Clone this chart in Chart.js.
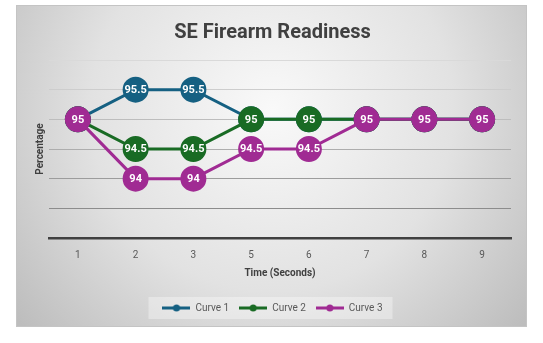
<!DOCTYPE html>
<html>
<head>
<meta charset="utf-8">
<script src="https://cdn.jsdelivr.net/npm/chart.js@4.4.1/dist/chart.umd.min.js"></script>
<style>
  html, body { margin: 0; padding: 0; background: #fff; }
  #wrap { width: 543px; height: 343px; }
</style>
</head>
<body>
<div id="wrap"><canvas id="chart" width="543" height="343"></canvas></div>
<script>
// data
var times = ['1', '2', '3', '5', '6', '7', '8', '9'];
var curve1 = [95, 95.5, 95.5, 95, 95, 95, 95, 95];
var curve2 = [95, 94.5, 94.5, 95, 95, 95, 95, 95];
var curve3 = [95, 94, 94, 94.5, 94.5, 95, 95, 95];
var seriesNames = ['Curve 1', 'Curve 2', 'Curve 3'];
var colors = ['#156082', '#196B24', '#A02B93'];

var fontFam = 'Roboto, "Liberation Sans", sans-serif';

// little line-with-dot marker for the legend
function legendMarker(color) {
    var c = document.createElement('canvas');
    c.width = 28; c.height = 8;
    var g = c.getContext('2d');
    g.strokeStyle = color;
    g.lineWidth = 3;
    g.beginPath(); g.moveTo(0, 4); g.lineTo(28, 4); g.stroke();
    g.fillStyle = color;
    g.beginPath(); g.arc(14, 4, 3.5, 0, Math.PI * 2); g.fill();
    return c;
}

// gray gradient panel behind everything + legend box
var panelBg = {
    id: 'panelBg',
    beforeDraw: function(chart) {
        var ctx = chart.ctx;
        ctx.save();
        var x0 = 16, y0 = 5, x1 = 527, y1 = 327;
        var grad = ctx.createRadialGradient(272, 110, 0, 272, 110, 330);
        grad.addColorStop(0, '#f9f9f9');
        grad.addColorStop(0.55, '#e2e2e2');
        grad.addColorStop(1, '#bdbdbd');
        ctx.fillStyle = grad;
        ctx.fillRect(x0, y0, x1 - x0, y1 - y0);
        ctx.strokeStyle = '#c4c4c4';
        ctx.lineWidth = 1;
        ctx.strokeRect(x0 + 0.5, y0 + 0.5, x1 - x0 - 1, y1 - y0 - 1);

        var boxes = chart.legend && chart.legend.legendHitBoxes;
        if (boxes && boxes.length) {
            var first = boxes[0], last = boxes[boxes.length - 1];
            ctx.fillStyle = 'rgba(255,255,255,0.35)';
            ctx.fillRect(first.left - 14, first.top - 6, last.left + last.width - first.left + 24, first.height + 12);
        }
        ctx.restore();
    }
};

// white value labels inside the markers
var pointLabels = {
    id: 'pointLabels',
    afterDatasetDraw: function(chart, args) {
        var ctx = chart.ctx;
        var ds = chart.data.datasets[args.index];
        ctx.save();
        ctx.font = 'bold 11px ' + fontFam;
        ctx.fillStyle = '#ffffff';
        ctx.textAlign = 'center';
        ctx.textBaseline = 'middle';
        args.meta.data.forEach(function(pt, i) {
            ctx.fillText(String(ds.data[i]), pt.x, pt.y + 0.5);
        });
        ctx.restore();
    }
};

var gridColors = ['#3f3f3f', '#8c8c8c', '#9c9c9c', '#adadad', '#bdbdbd', '#cdcdcd', '#d9d9d9'];

var datasets = [curve1, curve2, curve3].map(function(vals, i) {
    return {
        label: seriesNames[i],
        data: vals,
        borderColor: colors[i],
        backgroundColor: colors[i],
        pointBackgroundColor: colors[i],
        pointBorderColor: colors[i],
        borderWidth: 3,
        pointRadius: 11.5,
        pointHoverRadius: 11.5,
        tension: 0,
        order: 3 - i,
        pointStyle: 'circle'
    };
});

var ctx = document.getElementById('chart').getContext('2d');
var chart = new Chart(ctx, {
    type: 'line',
    data: { labels: times, datasets: datasets },
    options: {
        responsive: false,
        animation: false,
        layout: { padding: { left: 34, right: 32, top: 5, bottom: 20 } },
        plugins: {
            title: {
                display: true,
                text: 'SE Firearm Readiness',
                color: '#404040',
                font: { family: fontFam, size: 20, weight: 'bold' },
                padding: { top: 16, bottom: 15 }
            },
            legend: {
                position: 'bottom',
                labels: {
                    usePointStyle: true,
                    pointStyleWidth: 28,
                    color: '#595959',
                    font: { family: fontFam, size: 10 },
                    padding: 10,
                    sort: function(a, b) { return a.datasetIndex - b.datasetIndex; },
                    generateLabels: function(ch) {
                        return ch.data.datasets.map(function(d, i) {
                            return {
                                text: d.label,
                                pointStyle: legendMarker(colors[i]),
                                fillStyle: colors[i],
                                strokeStyle: colors[i],
                                lineWidth: 0,
                                fontColor: '#595959',
                                datasetIndex: i
                            };
                        });
                    }
                }
            },
            tooltip: { enabled: false }
        },
        scales: {
            x: {
                offset: true,
                grid: { display: false, offset: true },
                border: { display: true, color: '#404040', width: 2.5 },
                ticks: { color: '#595959', font: { family: fontFam, size: 10 }, padding: 3 },
                title: {
                    display: true,
                    text: 'Time (Seconds)',
                    color: '#404040',
                    font: { family: fontFam, size: 10, weight: 'bold' },
                    padding: { top: 3, bottom: 14 }
                }
            },
            y: {
                min: 93,
                max: 96,
                ticks: { stepSize: 0.5, display: false },
                border: { display: false },
                grid: {
                    drawTicks: false,
                    color: function(c) { return gridColors[c.index] || '#d9d9d9'; },
                    lineWidth: 1
                },
                title: {
                    display: true,
                    text: 'Percentage',
                    color: '#404040',
                    font: { family: fontFam, size: 10, weight: 'bold' },
                    padding: { top: 0, bottom: 3 }
                }
            }
        }
    },
    plugins: [panelBg, pointLabels]
});
</script>
</body>
</html>
